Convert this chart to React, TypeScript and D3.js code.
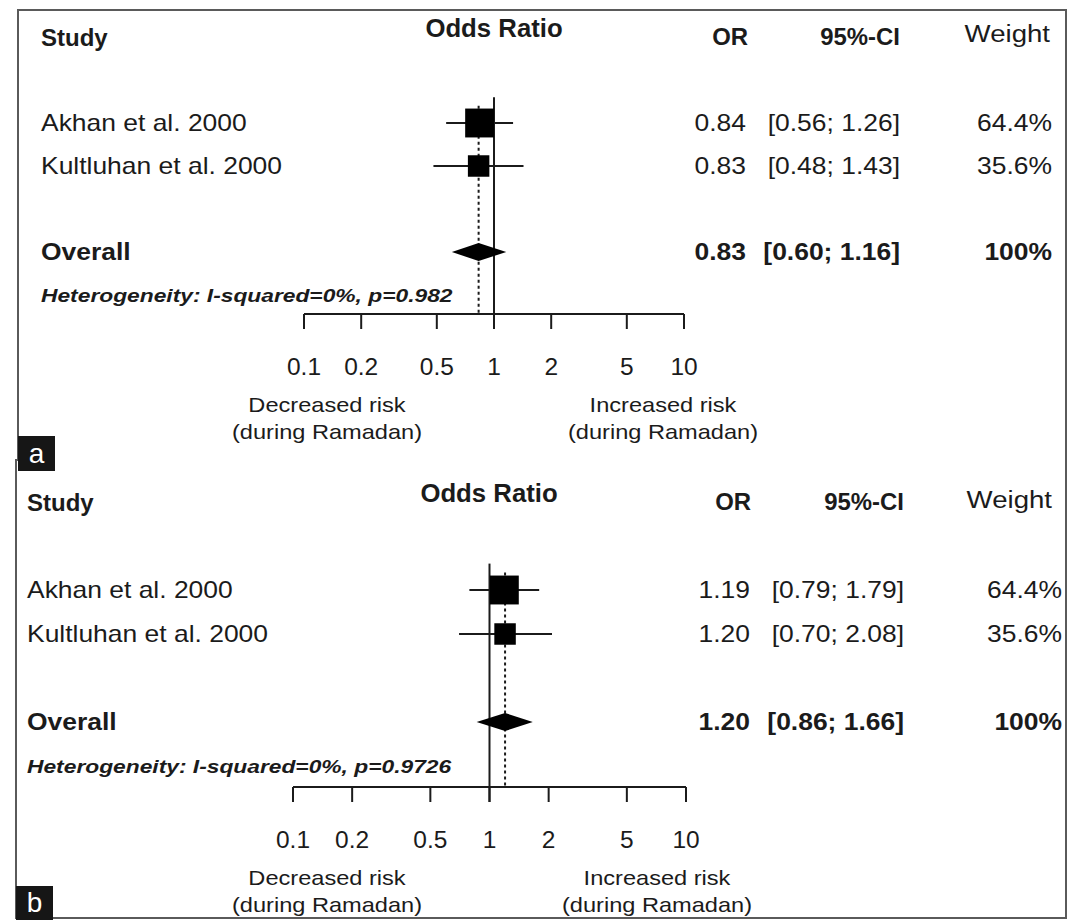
import React from "react";
import { scaleLog, scaleSqrt } from "d3";

// study labels and weights (same for both panels)
const studies = ["Akhan et al. 2000", "Kultluhan et al. 2000"];
const weights = [64.4, 35.6];
const axisTicks = [0.1, 0.2, 0.5, 1, 2, 5, 10];

// panel a
const orA = [0.84, 0.83];
const lowerA = [0.56, 0.48];
const upperA = [1.26, 1.43];
const overallA = [0.83, 0.6, 1.16];
const hetA = "Heterogeneity: I-squared=0%, p=0.982";

// panel b
const orB = [1.19, 1.2];
const lowerB = [0.79, 0.7];
const upperB = [1.79, 2.08];
const overallB = [1.2, 0.86, 1.66];
const hetB = "Heterogeneity: I-squared=0%, p=0.9726";

const FONT = "'Liberation Sans', Arial, sans-serif";
const INK = "#1b1b1b";

const layoutA = {
  label: "a",
  x0: 304, x1: 684,
  rowTop: 37, step: 43, axisY: 314,
  titleY: 28, weightHeadY: 33,
  studyX: 41, orRight: 746, ciRight: 900, wRight: 1052,
  orHead: 748, ciHead: 900, wHead: 1050, titleX: 494,
  decX: 327, incX: 663,
  tagX: 18, tagY: 436, tagH: 35,
};
const layoutB = {
  label: "b",
  x0: 293, x1: 686,
  rowTop: 502, step: 44, axisY: 787,
  titleY: 493, weightHeadY: 499,
  studyX: 27, orRight: 750, ciRight: 904, wRight: 1062,
  orHead: 751, ciHead: 904, wHead: 1052, titleX: 489,
  decX: 327, incX: 657,
  tagX: 16, tagY: 886, tagH: 34,
};

const T = ({ x, y, size, sx = 1, bold = false, italic = false, anchor = "start", fill = INK, children }) => (
  <text
    transform={`translate(${x},${y}) scale(${sx},1)`}
    fontFamily={FONT}
    fontSize={size}
    fontWeight={bold ? "bold" : "normal"}
    fontStyle={italic ? "italic" : "normal"}
    textAnchor={anchor}
    dy="0.36em"
    fill={fill}
  >
    {children}
  </text>
);

const sideScale = scaleSqrt().domain([0, 100]).range([0, 36]);

const Panel = ({ L, or, lower, upper, overall, het }) => {
  const x = scaleLog().domain([0.1, 10]).range([L.x0, L.x1]);
  const rowY = (i) => L.rowTop + L.step * i;
  const [ovOr, ovLo, ovHi] = overall;
  const rowSize = 23;
  const rowSx = 1.15;

  return (
    <g>
      {/* headers */}
      <T x={L.studyX} y={rowY(0)} size={24} bold>Study</T>
      <T x={L.titleX} y={L.titleY} size={25} sx={1.03} bold anchor="middle">Odds Ratio</T>
      <T x={L.orHead} y={rowY(0)} size={23} sx={1.04} bold anchor="end">OR</T>
      <T x={L.ciHead} y={rowY(0)} size={23} sx={1.04} bold anchor="end">95%-CI</T>
      <T x={L.wHead} y={L.weightHeadY} size={24} sx={1.15} anchor="end">Weight</T>

      {/* reference line at 1 and dotted overall line */}
      <line x1={x(1)} x2={x(1)} y1={rowY(1.4)} y2={L.axisY + 15} stroke={INK} strokeWidth={2} />
      <line x1={x(ovOr)} x2={x(ovOr)} y1={rowY(1.6)} y2={L.axisY} stroke={INK} strokeWidth={2} strokeDasharray="3,3" />

      {studies.map((s, i) => {
        const y = rowY(2 + i);
        const side = sideScale(weights[i]);
        return (
          <g key={s}>
            <T x={L.studyX} y={y} size={rowSize} sx={rowSx}>{s}</T>
            <line x1={x(lower[i])} x2={x(upper[i])} y1={y} y2={y} stroke={INK} strokeWidth={2} />
            <rect x={x(or[i]) - side / 2} y={y - side / 2} width={side} height={side} fill="#000" />
            <T x={L.orRight} y={y} size={rowSize} sx={rowSx} anchor="end">{or[i].toFixed(2)}</T>
            <T x={L.ciRight} y={y} size={rowSize} sx={rowSx} anchor="end">
              {`[${lower[i].toFixed(2)}; ${upper[i].toFixed(2)}]`}
            </T>
            <T x={L.wRight} y={y} size={rowSize} sx={rowSx} anchor="end">{`${weights[i].toFixed(1)}%`}</T>
          </g>
        );
      })}

      {/* overall */}
      <T x={L.studyX} y={rowY(5)} size={rowSize} sx={rowSx} bold>Overall</T>
      <polygon
        points={[
          [x(ovLo), rowY(5)],
          [x(ovOr), rowY(5) - 9],
          [x(ovHi), rowY(5)],
          [x(ovOr), rowY(5) + 9],
        ].map((p) => p.join(",")).join(" ")}
        fill="#000"
      />
      <T x={L.orRight} y={rowY(5)} size={rowSize} sx={rowSx} bold anchor="end">{ovOr.toFixed(2)}</T>
      <T x={L.ciRight} y={rowY(5)} size={rowSize} sx={rowSx} bold anchor="end">
        {`[${ovLo.toFixed(2)}; ${ovHi.toFixed(2)}]`}
      </T>
      <T x={L.wRight} y={rowY(5)} size={rowSize} sx={rowSx} bold anchor="end">100%</T>
      <T x={L.studyX} y={rowY(6)} size={19} sx={1.2} bold italic>{het}</T>

      {/* axis */}
      <line x1={x(0.1)} x2={x(10)} y1={L.axisY} y2={L.axisY} stroke={INK} strokeWidth={2} />
      {axisTicks.map((t) => (
        <g key={t}>
          <line x1={x(t)} x2={x(t)} y1={L.axisY} y2={L.axisY + 15} stroke={INK} strokeWidth={2} />
          <T x={x(t)} y={L.axisY + 52} size={24.5} anchor="middle">{String(t)}</T>
        </g>
      ))}
      <T x={L.decX} y={L.axisY + 91} size={20} sx={1.18} anchor="middle">Decreased risk</T>
      <T x={L.decX} y={L.axisY + 118} size={20} sx={1.18} anchor="middle">(during Ramadan)</T>
      <T x={L.incX} y={L.axisY + 91} size={20} sx={1.18} anchor="middle">Increased risk</T>
      <T x={L.incX} y={L.axisY + 118} size={20} sx={1.18} anchor="middle">(during Ramadan)</T>

      {/* panel tag */}
      <rect x={L.tagX} y={L.tagY} width={37} height={L.tagH} fill="#161616" />
      <T x={L.tagX + 18.5} y={L.tagY + L.tagH / 2 - 1} size={28} anchor="middle" fill="#fff">{L.label}</T>
    </g>
  );
};

export default function App() {
  return (
    <div style={{ position: "absolute", left: 0, top: 0 }}>
      <svg width={1077} height={920} style={{ display: "block", background: "#fff" }}>
        <rect x={0} y={0} width={1077} height={920} fill="#fff" />
        <path d="M18,10 H1066 V918 H16 V460 H18 Z" fill="none" stroke="#5a5a5a" strokeWidth={2} />
        <Panel L={layoutA} or={orA} lower={lowerA} upper={upperA} overall={overallA} het={hetA} />
        <Panel L={layoutB} or={orB} lower={lowerB} upper={upperB} overall={overallB} het={hetB} />
      </svg>
    </div>
  );
}
